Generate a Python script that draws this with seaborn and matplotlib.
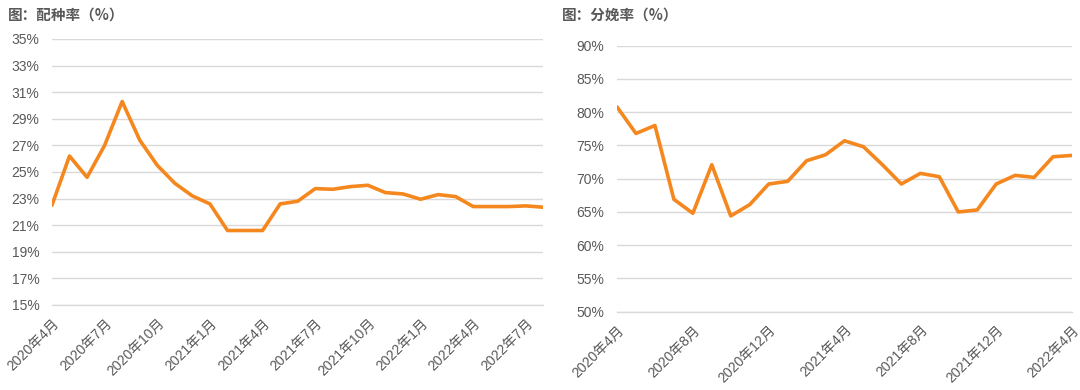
import pandas as pd
import matplotlib
matplotlib.use('Agg')
import matplotlib.pyplot as plt
import seaborn as sns

# monthly data
breed_months = [f'{p.year}年{p.month}月' for p in pd.period_range('2020-04', '2022-08', freq='M')]
breed_rate = [22.5, 26.2, 24.6, 27.0, 30.3, 27.4, 25.5, 24.15, 23.2, 22.6,
              20.6, 20.6, 20.6, 22.6, 22.8, 23.75, 23.7, 23.9, 24.0, 23.45,
              23.35, 22.95, 23.3, 23.15, 22.4, 22.4, 22.4, 22.45, 22.35]

farrow_months = [f'{p.year}年{p.month}月' for p in pd.period_range('2020-04', '2022-04', freq='M')]
farrow_rate = [80.8, 76.8, 78.0, 66.9, 64.8, 72.1, 64.4, 66.1, 69.2, 69.6,
               72.7, 73.6, 75.7, 74.8, 72.1, 69.2, 70.8, 70.3, 65.0, 65.3,
               69.2, 70.5, 70.2, 73.3, 73.5]

breed_yticks = list(range(15, 36, 2))
farrow_yticks = list(range(50, 91, 5))

sns.set_style('white')
plt.rcParams['font.family'] = ['Liberation Sans', 'Noto Sans CJK SC', 'DejaVu Sans']

TEXT = '#595959'
GRID = '#D9D9D9'
LINE = '#F5871F'

fig = plt.figure(figsize=(10.8, 3.9), dpi=100)
ax1 = fig.add_axes([0.0481, 0.218, 0.4551, 0.682])
ax2 = fig.add_axes([0.5713, 0.2008, 0.4213, 0.682])


def style_axis(ax, months, values, yticks, step):
    df = pd.DataFrame({'pos': range(len(months)), 'val': values})
    sns.lineplot(data=df, x='pos', y='val', ax=ax, color=LINE, linewidth=2.6)
    ax.set_xlim(0, len(months) - 1)
    ax.set_ylim(yticks[0], yticks[-1])
    ax.set_yticks(yticks)
    ax.set_yticklabels([f'{v}%' for v in yticks])
    ticks = list(range(0, len(months), step))
    ax.set_xticks(ticks)
    ax.set_xticklabels([months[i] for i in ticks], rotation=45, ha='right',
                       va='top', rotation_mode='anchor')
    ax.set_xlabel('')
    ax.set_ylabel('')
    ax.grid(axis='y', color=GRID, linewidth=1)
    ax.set_axisbelow(True)
    for s in ['top', 'right', 'left']:
        ax.spines[s].set_visible(False)
    ax.spines['bottom'].set_color(GRID)
    ax.spines['bottom'].set_linewidth(1)
    ax.tick_params(axis='y', length=0, pad=9, labelsize=10, labelcolor=TEXT)
    ax.tick_params(axis='x', length=4, width=1, color=GRID, direction='out',
                   pad=4, labelsize=10, labelcolor=TEXT)


style_axis(ax1, breed_months, breed_rate, breed_yticks, 3)
style_axis(ax2, farrow_months, farrow_rate, farrow_yticks, 4)

fig.text(0.007, 0.962, '图：配种率（%）', fontsize=10.5, fontweight='bold',
         color=TEXT, va='center', ha='left', family=['Noto Sans CJK SC'])
fig.text(0.52, 0.962, '图：分娩率（%）', fontsize=10.5, fontweight='bold',
         color=TEXT, va='center', ha='left', family=['Noto Sans CJK SC'])

fig.savefig('out.png', dpi=100)
